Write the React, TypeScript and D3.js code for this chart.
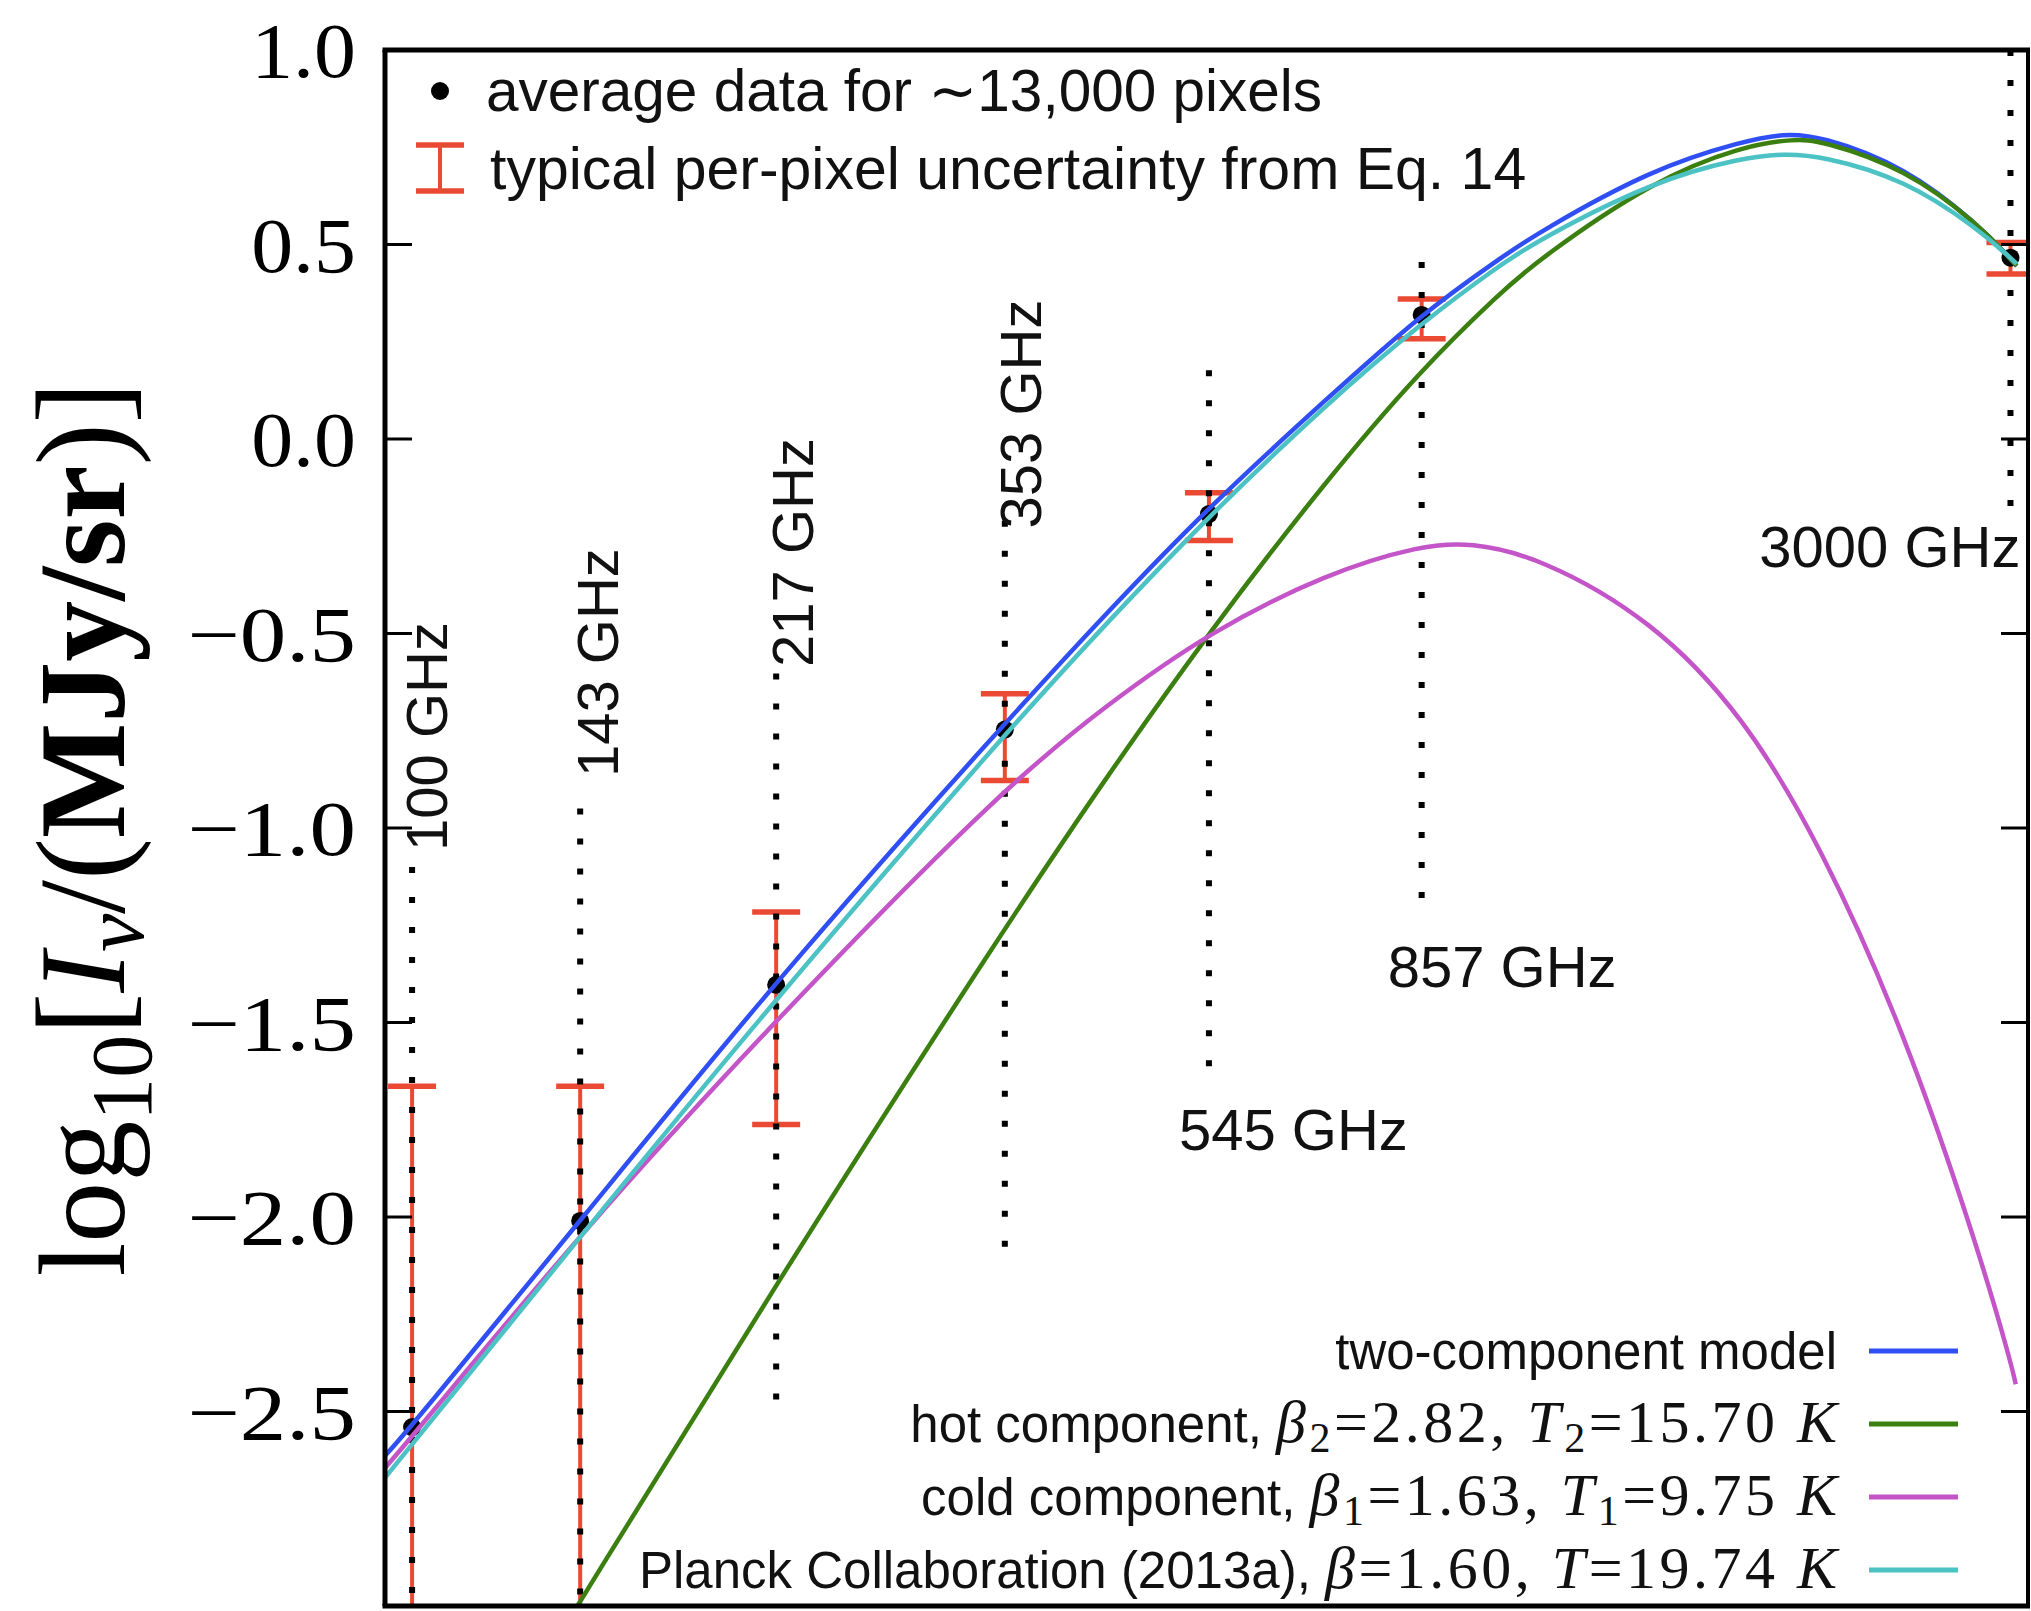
import React from 'react';
import * as d3 from 'd3';

// ---------- data ----------
const bandFreqs = [100, 143, 217, 353, 545, 857, 3000];
const bandLabels = ['100 GHz', '143 GHz', '217 GHz', '353 GHz', '545 GHz', '857 GHz', '3000 GHz'];
const dataVals = [-2.54, -2.01, -1.403, -0.747, -0.193, 0.319, 0.466];
const errHigh = [-1.664, -1.664, -1.216, -0.655, -0.138, 0.36, 0.505];
const errLow: (number | null)[] = [null, null, -1.762, -0.878, -0.261, 0.258, 0.424];
const dotTop = [-1.1, -0.95, -0.603, -0.21, 0.177, 0.455, 1.0];
const dotBottom = [-3.0, -3.0, -2.5, -2.1, -1.645, -1.23, -0.188];

const modelFreqs = [94.4, 100, 143, 217, 353, 440, 545, 700, 857, 1013, 1100, 1400, 1700, 1850, 2000, 2400, 2800, 3000, 3040];
const twoComp = [-2.614, -2.536, -2.01, -1.39, -0.73, -0.442, -0.174, 0.103, 0.322, 0.465, 0.532, 0.695, 0.766, 0.785, 0.78, 0.7, 0.552, 0.463, 0.445];
const planck = [-2.67, -2.585, -2.05, -1.437, -0.758, -0.468, -0.198, 0.09, 0.299, 0.448, 0.512, 0.662, 0.724, 0.733, 0.729, 0.667, 0.54, 0.466, 0.45];

const hotFreqs = [140, 217, 353, 440, 545, 700, 857, 1013, 1100, 1400, 1700, 1894, 2000, 2400, 2800, 3000, 3040];
const hotVals = [-3.03, -2.17, -1.255, -0.862, -0.497, -0.105, 0.18, 0.376, 0.462, 0.664, 0.754, 0.771, 0.768, 0.695, 0.553, 0.463, 0.445];

const coldFreqs = [94.4, 100, 143, 217, 353, 440, 545, 700, 857, 950, 1100, 1400, 1700, 2000, 2400, 2800, 3000, 3034];
const coldVals = [-2.645, -2.565, -2.042, -1.49, -0.893, -0.68, -0.497, -0.345, -0.273, -0.266, -0.303, -0.465, -0.712, -1.04, -1.53, -2.08, -2.37, -2.43];

const yTicks = [1.0, 0.5, 0.0, -0.5, -1.0, -1.5, -2.0, -2.5];
const yTickLabels = ['1.0', '0.5', '0.0', '\u22120.5', '\u22121.0', '\u22121.5', '\u22122.0', '\u22122.5'];

// ---------- layout / style ----------
const W = 2031, H = 1611;
const X0 = 385, X1 = 2028, Y0 = 50, Y1 = 1606;
const C = {
  blue: '#2f4ff5',
  green: '#3a7f10',
  magenta: '#c455c8',
  cyan: '#4cc2c4',
  red: '#ea4a33',
};
const labelLayout = [
  { rot: true, dx: 35, v: -1.059, anchor: 'start' },
  { rot: true, dx: 38, v: -0.869, anchor: 'start' },
  { rot: true, dx: 37, v: -0.586, anchor: 'start' },
  { rot: true, dx: 36, v: -0.23, anchor: 'start' },
  { rot: false, dx: -30, v: -1.828, anchor: 'start' },
  { rot: false, dx: -34, v: -1.409, anchor: 'start' },
  { rot: false, dx: 10, v: -0.33, anchor: 'end' },
];

const cmW: Record<string, number> = { '.': 0.278, '\u2212': 0.778 };
const cmWidth = (s: string) => s.split('').reduce((a, ch) => a + (cmW[ch] ?? 0.5), 0);

const SANS = 'Liberation Sans, Arial, Helvetica, sans-serif';
const SERIF = 'Liberation Serif, Times New Roman, serif';

export default function App() {
  const x = d3.scaleLog().domain([94.4, 3114]).range([X0, X1]);
  const y = d3.scaleLinear().domain([-3, 1]).range([Y1, Y0]);
  const line = d3
    .line<[number, number]>()
    .x((d) => x(d[0]))
    .y((d) => y(d[1]))
    .curve(d3.curveBasis);

  const series = [
    { f: modelFreqs, v: twoComp, c: C.blue },
    { f: hotFreqs, v: hotVals, c: C.green },
    { f: coldFreqs, v: coldVals, c: C.magenta },
    { f: modelFreqs, v: planck, c: C.cyan },
  ];

  const capHalf = 24;
  const legendRowsY = [1351, 1424, 1497, 1570];
  const legX0 = 1869, legX1 = 1958, legTextX = 1837;
  const mathFs = 60;
  const mathStyle = { letterSpacing: '3.5px' };

  const mathRow = (sub: string | null, bv: string, tv: string) => (
    <>
      <tspan fontFamily={SERIF} fontStyle="italic" fontSize={mathFs} style={mathStyle}>β</tspan>
      {sub !== null && <tspan fontFamily={SERIF} fontSize={42} dy={10} style={mathStyle}>{sub}</tspan>}
      <tspan fontFamily={SERIF} fontSize={mathFs} dy={sub !== null ? -10 : 0} style={mathStyle}>{'=' + bv + ',  '}</tspan>
      <tspan fontFamily={SERIF} fontStyle="italic" fontSize={mathFs} style={mathStyle}>T</tspan>
      {sub !== null && <tspan fontFamily={SERIF} fontSize={42} dy={10} style={mathStyle}>{sub}</tspan>}
      <tspan fontFamily={SERIF} fontSize={mathFs} dy={sub !== null ? -10 : 0} style={mathStyle}>{'=' + tv + ' '}</tspan>
      <tspan fontFamily={SERIF} fontStyle="italic" fontSize={mathFs}>K</tspan>
    </>
  );

  return (
    <svg width={W} height={H} style={{ position: 'absolute', left: 0, top: 0, background: '#fff' }}>
      <defs>
        <clipPath id="plotclip">
          <rect x={X0} y={Y0} width={X1 - X0} height={Y1 - Y0} />
        </clipPath>
      </defs>
      <rect x={0} y={0} width={W} height={H} fill="#fff" />

      <g clipPath="url(#plotclip)">
        {/* error bars */}
        {bandFreqs.map((f, i) => {
          const cx = x(f);
          const yt = y(errHigh[i]);
          const lo = errLow[i];
          const yb = lo === null ? Y1 + 20 : y(lo);
          return (
            <g key={'eb' + i} stroke={C.red}>
              <line x1={cx} x2={cx} y1={yt} y2={yb} strokeWidth={4} />
              <line x1={cx - capHalf} x2={cx + capHalf} y1={yt} y2={yt} strokeWidth={5.5} />
              {lo !== null && <line x1={cx - capHalf} x2={cx + capHalf} y1={yb} y2={yb} strokeWidth={5.5} />}
            </g>
          );
        })}
        {/* dotted band markers */}
        {bandFreqs.map((f, i) => (
          <line
            key={'dl' + i}
            x1={x(f)}
            x2={x(f)}
            y1={y(dotTop[i])}
            y2={y(dotBottom[i])}
            stroke="#000"
            strokeWidth={6}
            strokeDasharray="6 24"
          />
        ))}
        {/* data points */}
        {bandFreqs.map((f, i) => (
          <circle key={'pt' + i} cx={x(f)} cy={y(dataVals[i])} r={9} fill="#000" />
        ))}
        {/* model curves */}
        {series.map((s, k) => (
          <path
            key={'s' + k}
            d={line(s.f.map((f, i) => [f, s.v[i]] as [number, number])) || ''}
            fill="none"
            stroke={s.c}
            strokeWidth={4.5}
            strokeLinejoin="round"
          />
        ))}
      </g>

      {/* band labels */}
      {bandFreqs.map((f, i) => {
        const L = labelLayout[i];
        const px = x(f) + L.dx;
        const py = y(L.v);
        return L.rot ? (
          <text
            key={'bl' + i}
            transform={`translate(${px},${py}) rotate(-90)`}
            textAnchor={L.anchor}
            fontFamily={SANS}
            fontSize={58}
            fill="#111"
          >
            {bandLabels[i]}
          </text>
        ) : (
          <text key={'bl' + i} x={px} y={py} textAnchor={L.anchor} fontFamily={SANS} fontSize={58} fill="#111">
            {bandLabels[i]}
          </text>
        );
      })}

      {/* ticks */}
      {yTicks
        .filter((v) => v < 1)
        .map((v, i) => (
          <g key={'tk' + i} stroke="#000" strokeWidth={3}>
            <line x1={X0} x2={X0 + 27} y1={y(v)} y2={y(v)} />
            <line x1={X1} x2={X1 - 27} y1={y(v)} y2={y(v)} />
          </g>
        ))}

      {/* spines */}
      <g stroke="#000" fill="none">
        <line x1={X0 - 2.5} x2={X1 + 2} y1={Y0} y2={Y0} strokeWidth={5} />
        <line x1={X0 - 2.5} x2={X1 + 2} y1={Y1} y2={Y1} strokeWidth={5} />
        <line x1={X0} x2={X0} y1={Y0} y2={Y1} strokeWidth={5} />
        <line x1={X1} x2={X1} y1={Y0} y2={Y1} strokeWidth={4} />
      </g>

      {/* y tick labels */}
      {yTicks.map((v, i) => (
        <text
          key={'tl' + i}
          x={356}
          y={y(v) + 27}
          textAnchor="end"
          fontFamily={SERIF}
          fontSize={78}
          textLength={cmWidth(yTickLabels[i]) * 82}
          lengthAdjust="spacingAndGlyphs"
          fill="#000"
        >
          {yTickLabels[i]}
        </text>
      ))}

      {/* y axis label */}
      <text
        transform={`translate(124,${829}) rotate(-90)`}
        textAnchor="middle"
        fontFamily={SERIF}
        fontSize={122}
        fill="#000"
      >
        <tspan>log</tspan>
        <tspan fontSize={86} dy={27}>10</tspan>
        <tspan dy={-27} fontSize={126}>[</tspan>
        <tspan fontStyle="italic">I</tspan>
        <tspan fontStyle="italic" fontSize={86} dy={19}>ν</tspan>
        <tspan dy={-19}>/</tspan>
        <tspan fontSize={126}>(</tspan>
        <tspan fontWeight="bold">MJy/sr</tspan>
        <tspan fontSize={126}>)]</tspan>
      </text>

      {/* top-left legend */}
      <circle cx={440} cy={91} r={9} fill="#000" />
      <text x={486} y={111} fontFamily={SANS} fontSize={58.5} fill="#111" style={{ whiteSpace: 'pre' }}>
        average data for <tspan fontFamily="DejaVu Sans">∼</tspan>13,000 pixels
      </text>
      <g stroke={C.red}>
        <line x1={440} x2={440} y1={145} y2={191} strokeWidth={4} />
        <line x1={416} x2={464} y1={145} y2={145} strokeWidth={5.5} />
        <line x1={416} x2={464} y1={191} y2={191} strokeWidth={5.5} />
      </g>
      <text x={490} y={189} fontFamily={SANS} fontSize={59} fill="#111">
        typical per-pixel uncertainty from Eq. 14
      </text>

      {/* bottom-right legend */}
      {[C.blue, C.green, C.magenta, C.cyan].map((c, i) => (
        <line key={'ll' + i} x1={legX0} x2={legX1} y1={legendRowsY[i]} y2={legendRowsY[i]} stroke={c} strokeWidth={5} />
      ))}
      <g fontFamily={SANS} fontSize={51} fill="#111" textAnchor="end" style={{ whiteSpace: 'pre' }}>
        <text x={legTextX} y={legendRowsY[0] + 18}>two-component model</text>
        <text x={legTextX} y={legendRowsY[1] + 18}>
          {'hot component, '}
          {mathRow('2', '2.82', '15.70')}
        </text>
        <text x={legTextX} y={legendRowsY[2] + 18}>
          {'cold component, '}
          {mathRow('1', '1.63', '9.75')}
        </text>
        <text x={legTextX} y={legendRowsY[3] + 18}>
          {'Planck Collaboration (2013a), '}
          {mathRow(null, '1.60', '19.74')}
        </text>
      </g>
    </svg>
  );
}
